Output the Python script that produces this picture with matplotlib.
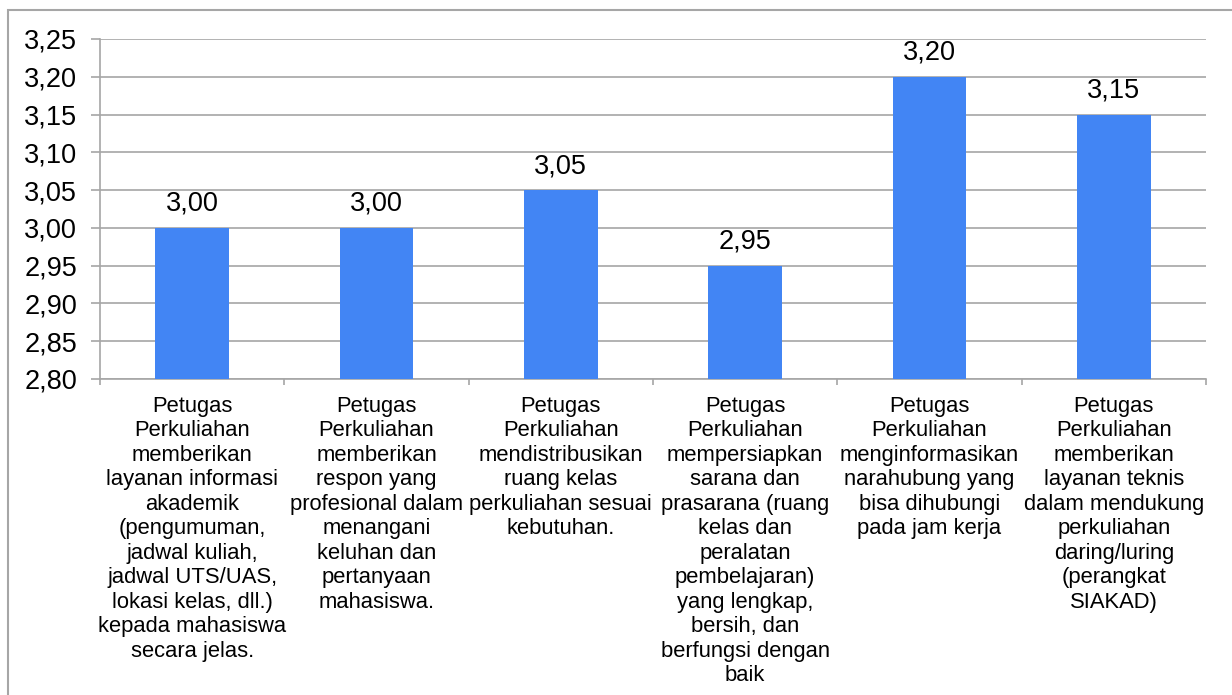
import matplotlib
matplotlib.use("Agg")
import matplotlib.pyplot as plt
from matplotlib.patches import Rectangle
from matplotlib.ticker import FuncFormatter

categories = [
    "Petugas\nPerkuliahan\nmemberikan\nlayanan informasi\nakademik\n(pengumuman,\njadwal kuliah,\njadwal UTS/UAS,\nlokasi kelas, dll.)\nkepada mahasiswa\nsecara jelas.",
    "Petugas\nPerkuliahan\nmemberikan\nrespon yang\nprofesional dalam\nmenangani\nkeluhan dan\npertanyaan\nmahasiswa.",
    "Petugas\nPerkuliahan\nmendistribusikan\nruang kelas\nperkuliahan sesuai\nkebutuhan.",
    "Petugas\nPerkuliahan\nmempersiapkan\nsarana dan\nprasarana (ruang\nkelas dan\nperalatan\npembelajaran)\nyang lengkap,\nbersih, dan\nberfungsi dengan\nbaik",
    "Petugas\nPerkuliahan\nmenginformasikan\nnarahubung yang\nbisa dihubungi\npada jam kerja",
    "Petugas\nPerkuliahan\nmemberikan\nlayanan teknis\ndalam mendukung\nperkuliahan\ndaring/luring\n(perangkat\nSIAKAD)",
]
values = [3.00, 3.00, 3.05, 2.95, 3.20, 3.15]
y_ticks = [2.80, 2.85, 2.90, 2.95, 3.00, 3.05, 3.10, 3.15, 3.20, 3.25]

plt.rcParams['font.family'] = ['Liberation Sans', 'DejaVu Sans']

W, H = 1232, 695
fig = plt.figure(figsize=(W / 100, H / 100), dpi=100)
# outer border
fig.patches.append(Rectangle((8 / W, -0.1), 1.2, (H - 10) / H + 0.1, transform=fig.transFigure,
                             fill=False, edgecolor='#a6a6a6', linewidth=1.5))

left, right, top, bottom = 100, 1206, 39, 379
ax = fig.add_axes([left / W, 1 - bottom / H, (right - left) / W, (bottom - top) / H])

x = list(range(len(values)))
ax.bar(x, [v - 2.80 for v in values], bottom=2.80, width=0.40, color='#4285F4', zorder=3)

ax.set_xlim(-0.5, len(values) - 0.5)
ax.set_ylim(2.80, 3.25)
ax.set_yticks(y_ticks)
ax.yaxis.set_major_formatter(FuncFormatter(lambda v, p: f"{v:.2f}".replace('.', ',')))
ax.tick_params(axis='y', labelsize=19.5, length=6.5, color='#a6a6a6', width=1.2, pad=10)
ax.grid(axis='y', color='#a6a6a6', linewidth=1.2, zorder=0)

# x ticks at category boundaries
ax.set_xticks([i + 0.5 for i in range(-1, len(values))])
ax.set_xticklabels([])
ax.tick_params(axis='x', length=4.3, color='#a6a6a6', width=1.2)
ax.set_xticks(x, minor=True)
ax.set_xticklabels(categories, minor=True, fontsize=15.8, linespacing=1.22, va='top')
ax.tick_params(axis='x', which='minor', length=0, pad=12)

for s in ['top', 'right']:
    ax.spines[s].set_visible(False)
for s in ['left', 'bottom']:
    ax.spines[s].set_color('#a6a6a6')
    ax.spines[s].set_linewidth(1.2)

for xi, v in zip(x, values):
    ax.annotate(f"{v:.2f}".replace('.', ','), (xi, v), xytext=(0, 8), textcoords='offset points',
                ha='center', va='bottom', fontsize=19.5)

fig.savefig("out.png", dpi=100)
